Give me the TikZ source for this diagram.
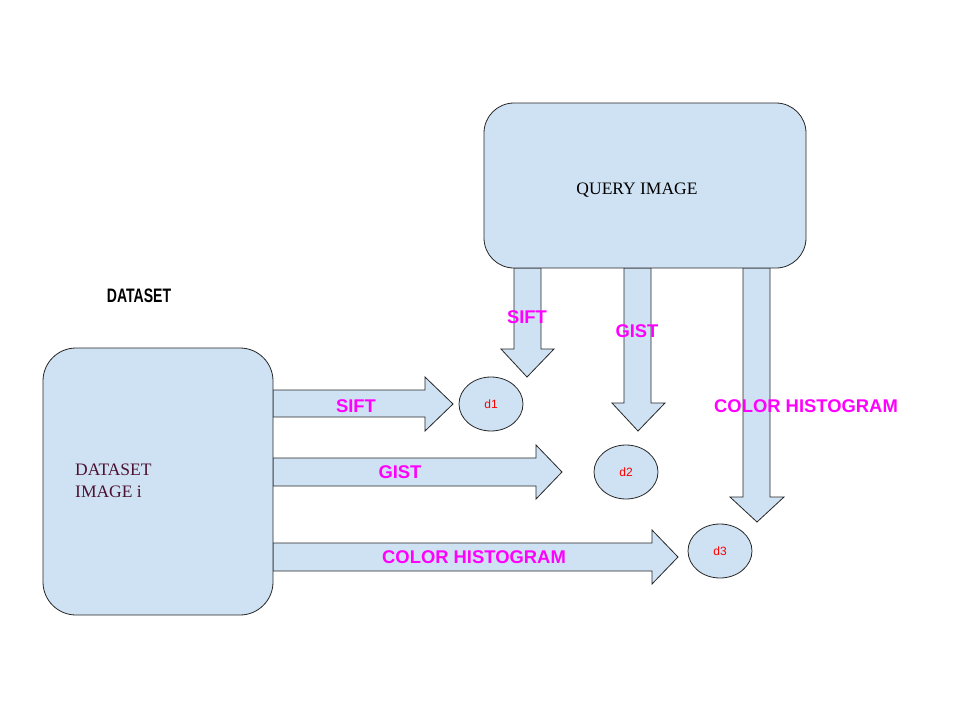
\documentclass[tikz,border=0pt]{standalone}
\usepackage{fontspec}
\setmainfont{Liberation Serif}
\setsansfont{Liberation Sans}
\usetikzlibrary{shapes.geometric}
\definecolor{boxblue}{HTML}{CFE2F3}
\definecolor{featpink}{HTML}{FF00FF}
\definecolor{distred}{HTML}{FF0000}
\definecolor{wine}{HTML}{4C1130}
\begin{document}
\begin{tikzpicture}[x=1pt,y=-1pt,
	imgbox/.style={draw=black!85,line width=0.8pt,fill=boxblue,inner sep=0pt},
	blockarrow/.style={draw=black!85,line width=0.8pt,fill=boxblue,line join=miter},
	dist/.style={ellipse,draw=black!85,line width=0.8pt,fill=boxblue,minimum width=64pt,minimum height=54pt,inner sep=0pt,text=distred,font=\sffamily\fontsize{12}{14}\selectfont},
	feat/.style={inner sep=0pt,text=featpink,font=\sffamily\bfseries\fontsize{18.4}{20}\selectfont}]
	\useasboundingbox (0,0) rectangle (954,718);
	% block arrows from the dataset image
	\draw[blockarrow](273,390)--(425,390)--(425,377)--(453,404)--(425,431)--(425,417)--(273,417)--cycle;
	\draw[blockarrow](273,458)--(536,458)--(536,445)--(562,472)--(536,499)--(536,486)--(273,486)--cycle;
	\draw[blockarrow](273,543)--(652,543)--(652,530)--(678,557)--(652,584)--(652,571)--(273,571)--cycle;
	% block arrows from the query image
	\draw[blockarrow](514,268)--(514,349)--(501,349)--(527,377)--(554,349)--(541,349)--(541,268)--cycle;
	\draw[blockarrow](624,268)--(624,403)--(612,403)--(638,431)--(665,403)--(651,403)--(651,268)--cycle;
	\draw[blockarrow](743,268)--(743,497)--(730,497)--(757,522)--(784,497)--(770,497)--(770,268)--cycle;
	\node[imgbox,rounded corners=33pt,minimum width=230pt,minimum height=267pt](dataset) at (158,481.5){};
	\node[imgbox,rounded corners=30pt,minimum width=322pt,minimum height=165pt](query) at (645,185.5){};
	\node[dist](d1) at (491,404){d1};
	\node[dist](d2) at (626,472){d2};
	\node[dist](d3) at (720,551){d3};
	\node[inner sep=0pt,xscale=0.72,font=\sffamily\bfseries\fontsize{19.5}{21}\selectfont](dstitle) at (139,296){DATASET};
	\node[inner sep=0pt,anchor=west,align=left,text=wine,font=\fontsize{17.5}{21.5}\selectfont](dslabel) at (75,481){DATASET\\IMAGE i};
	\node[inner sep=0pt,font=\fontsize{17.5}{20}\selectfont](qlabel) at (637,190){QUERY IMAGE};
	\node[feat](siftA) at (356,406){SIFT};
	\node[feat](gistA) at (400,472){GIST};
	\node[feat](colorA) at (474,557){COLOR HISTOGRAM};
	\node[feat](siftB) at (527,317){SIFT};
	\node[feat](gistB) at (637,331){GIST};
	\node[feat](colorB) at (806,406){COLOR HISTOGRAM};
\end{tikzpicture}
\end{document}
